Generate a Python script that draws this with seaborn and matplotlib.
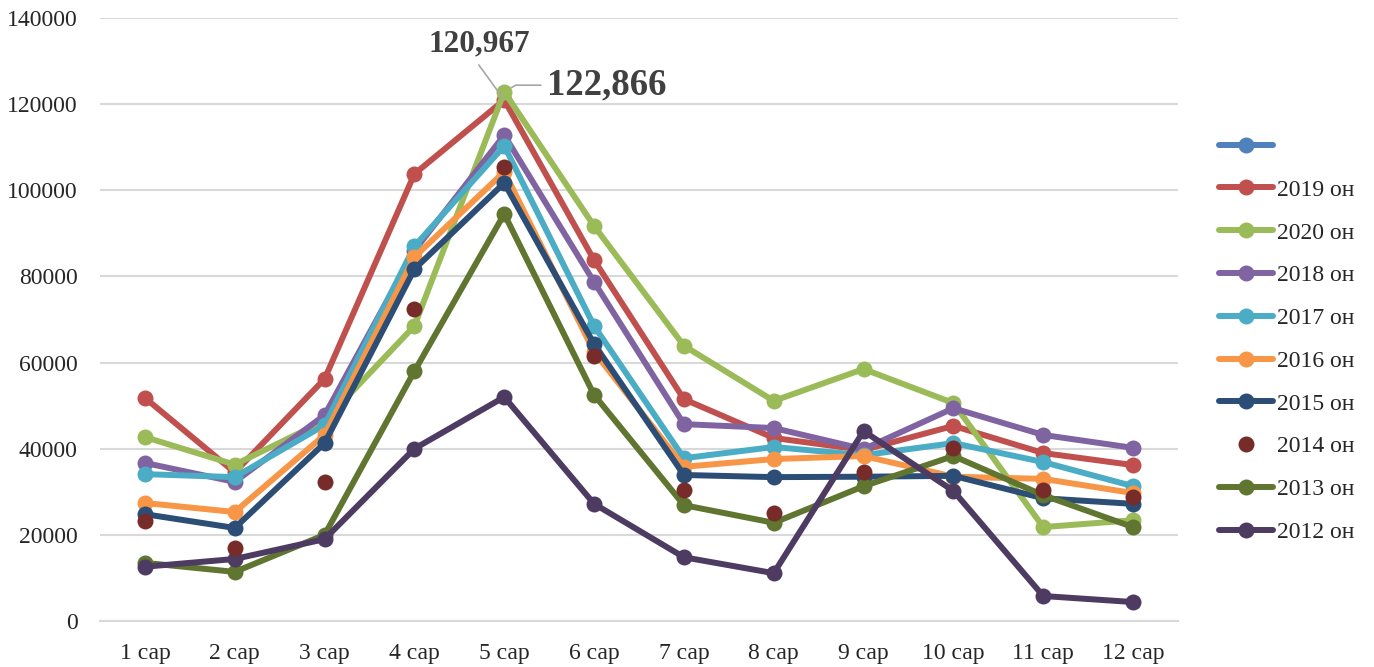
import matplotlib
matplotlib.use("Agg")
import matplotlib.pyplot as plt
from matplotlib.lines import Line2D
from matplotlib.ticker import FixedLocator
import seaborn as sns

months = ["1 сар", "2 сар", "3 сар", "4 сар", "5 сар", "6 сар",
          "7 сар", "8 сар", "9 сар", "10 сар", "11 сар", "12 сар"]

y2019 = [51800, 34500, 56200, 103800, 120967, 83800, 51500, 42500, 39700, 45300, 39000, 36200]
y2020 = [42700, 36300, 46500, 68500, 122866, 91700, 63900, 51100, 58500, 50600, 21800, 23400]
y2018 = [36700, 32300, 47800, 86000, 112800, 78700, 45700, 44800, 39900, 49400, 43200, 40200]
y2017 = [34100, 33400, 45500, 87000, 110300, 68500, 37800, 40400, 38500, 41300, 36900, 31300]
y2016 = [27400, 25300, 43200, 84500, 104300, 62500, 35800, 37600, 38300, 33500, 33000, 29700]
y2015 = [24800, 21600, 41300, 81700, 101700, 64300, 33900, 33400, 33500, 33700, 28500, 27200]
y2014 = [23200, 17000, 32300, 72400, 105400, 61500, 30400, 25000, 34600, 40200, 30400, 28900]
y2013 = [13500, 11400, 20000, 58000, 94500, 52500, 26900, 22800, 31300, 38300, 29200, 21800]
y2012 = [12600, 14400, 19000, 40000, 52000, 27200, 14800, 11100, 44100, 30200, 5800, 4400]

series = [
    ("2019 он", y2019, "#C0504D", True),
    ("2020 он", y2020, "#9BBB59", True),
    ("2018 он", y2018, "#8064A2", True),
    ("2017 он", y2017, "#4BACC6", True),
    ("2016 он", y2016, "#F79646", True),
    ("2015 он", y2015, "#2C4D75", True),
    ("2014 он", y2014, "#772C2A", False),
    ("2013 он", y2013, "#5F7530", True),
    ("2012 он", y2012, "#4D3B62", True),
]

sns.set_style("white")
plt.rcParams["font.family"] = ["Liberation Serif", "DejaVu Serif"]

fig = plt.figure(figsize=(13.74, 6.67), dpi=100)
ax = fig.add_axes([100 / 1374, 46 / 667, 1078 / 1374, 603 / 667])

x = list(range(len(months)))
lw = 4.3
ms = 11.5

for label, vals, color, line in series:
    if line:
        sns.lineplot(x=x, y=vals, color=color, linewidth=lw, marker="o",
                     markersize=ms, markeredgewidth=0, ax=ax)
    else:
        sns.scatterplot(x=x, y=vals, color=color, s=ms ** 2, linewidth=0,
                        ax=ax, zorder=3)

ax.set_xlim(-0.5, 11.5)
ax.set_ylim(0, 140000)
ax.set_yticks(range(0, 140001, 20000))
ax.set_yticklabels([str(v) for v in range(0, 140001, 20000)])
ax.set_xticks(x)
ax.set_xticklabels(months)
ax.xaxis.set_minor_locator(FixedLocator([i - 0.5 for i in range(13)]))
ax.tick_params(axis="x", which="major", length=0, pad=16, labelsize=17)
ax.tick_params(axis="x", which="minor", length=6, width=1.3, color="#D9D9D9",
               direction="out")
ax.tick_params(axis="y", length=0, pad=16, labelsize=17)
ax.grid(axis="y", color="#D9D9D9", linewidth=1.5)
ax.set_axisbelow(True)
for s in ["top", "right", "left"]:
    ax.spines[s].set_visible(False)
ax.spines["bottom"].set_color("#D9D9D9")
ax.spines["bottom"].set_linewidth(1.5)
ax.set_xlabel("")
ax.set_ylabel("")

# data labels on the May peaks
ax.annotate(f"{y2019[4]:,}", xy=(4, y2019[4]), xytext=(3.72, 134000),
            ha="center", va="center", fontsize=22.5, fontweight="bold",
            color="#404040",
            arrowprops=dict(arrowstyle="-", color="#A6A6A6", lw=1.2,
                            shrinkA=3, shrinkB=2, relpos=(0.45, 0)))
ax.annotate(f"{y2020[4]:,}", xy=(4, y2020[4]), xytext=(5.14, 124400),
            ha="center", va="center", fontsize=26.5, fontweight="bold",
            color="#404040",
            arrowprops=dict(arrowstyle="-", color="#A6A6A6", lw=1.2,
                            shrinkA=2, shrinkB=6,
                            connectionstyle="angle,angleA=0,angleB=30,rad=0",
                            relpos=(0, 0.5)))

handles = [Line2D([], [], color="#4F81BD", linewidth=lw, marker="o",
                  markersize=ms, markeredgewidth=0)]
labels = [" "]
for label, vals, color, line in series:
    handles.append(Line2D([], [], color=color, linewidth=lw if line else 0,
                          linestyle="-" if line else "", marker="o",
                          markersize=ms, markeredgewidth=0))
    labels.append(label)

fig.legend(handles, labels, loc="upper left", bbox_to_anchor=(1210 / 1374, 1 - 127 / 667),
           frameon=False, fontsize=17, labelspacing=0.9, handlelength=2.25,
           handletextpad=0.2, borderaxespad=0)

fig.savefig("out.png", dpi=100)
